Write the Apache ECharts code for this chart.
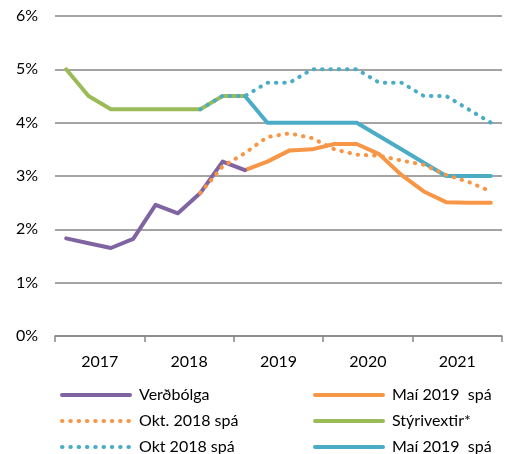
<!DOCTYPE html>
<html><head><meta charset="utf-8">
<script src="https://cdn.jsdelivr.net/npm/echarts@6/dist/echarts.min.js"></script>
<style>html,body{margin:0;padding:0;background:#fff}#c{width:509px;height:454px}</style>
</head><body><div id="c"></div>
<script>
const quarters = ['2017Q1','2017Q2','2017Q3','2017Q4','2018Q1','2018Q2','2018Q3','2018Q4','2019Q1','2019Q2','2019Q3','2019Q4','2020Q1','2020Q2','2020Q3','2020Q4','2021Q1','2021Q2','2021Q3','2021Q4'];
const yearLabels = ['2017','2018','2019','2020','2021'];
const yTicks = [0,1,2,3,4,5,6];
const verdbolga   = [1.83,1.74,1.65,1.82,2.46,2.30,2.68,3.27,3.11,null,null,null,null,null,null,null,null,null,null,null];
const mai2019Inf  = [null,null,null,null,null,null,null,null,3.11,3.27,3.48,3.50,3.60,3.60,3.41,3.02,2.71,2.51,2.50,2.50];
const okt2018Inf  = [null,null,null,null,null,null,2.68,3.18,3.43,3.73,3.80,3.71,3.50,3.40,3.38,3.29,3.21,3.02,2.89,2.71];
const styrivextir = [5.00,4.50,4.25,4.25,4.25,4.25,4.25,4.50,4.50,null,null,null,null,null,null,null,null,null,null,null];
const okt2018Rate = [null,null,null,null,null,null,4.25,4.50,4.50,4.75,4.75,5.00,5.00,5.00,4.75,4.75,4.50,4.50,4.25,4.00];
const mai2019Rate = [null,null,null,null,null,null,null,null,4.50,4.00,4.00,4.00,4.00,4.00,3.75,3.50,3.25,3.00,3.00,3.00];

const FONT = 'Lato';
const C = {purple:'#8064A2', orange:'#F79646', green:'#9BBB59', blue:'#4BACC6'};
const NAME_OR = 'Maí 2019  spá';
const NAME_BL = 'Maí 2019  spá\u200B';

function solid(name, data, color, z){
  return {name, type:'line', data, xAxisIndex:0, symbol:'none', z,
    lineStyle:{color, width:4, cap:'round', join:'round'}, itemStyle:{color}};
}
function dotted(name, data, color, z){
  return {name, type:'line', data, xAxisIndex:0, symbol:'none', z,
    lineStyle:{color, width:4, type:[0.5,7.8], cap:'round'}, itemStyle:{color}};
}
const legendCommon = {
  orient:'vertical', itemWidth:68, itemHeight:14, itemGap:10, padding:0,
  height:80,
  itemStyle:{opacity:0, borderWidth:0},
  lineStyle:{width:4},
  textStyle:{fontFamily:FONT, fontSize:16, lineHeight:14, color:'#000', padding:[0,0,0,4]},
  formatter: n => n.replace('\u200B','')
};
const option = {
  animation:false,
  grid:{left:55, right:7, top:16, bottom:118, containLabel:false},
  xAxis:[
    {type:'category', data:quarters, boundaryGap:true,
     axisLine:{lineStyle:{color:'#868686', width:1.5}},
     axisTick:{show:true, interval:(i)=>i%4===0, length:6, lineStyle:{color:'#868686', width:1.5}},
     axisLabel:{show:false}, splitLine:{show:false}},
    {type:'category', data:yearLabels, position:'bottom', boundaryGap:true,
     axisLine:{show:false}, axisTick:{show:false}, splitLine:{show:false},
     axisLabel:{margin:18, fontFamily:FONT, fontSize:16, color:'#000'}}
  ],
  yAxis:{type:'value', min:yTicks[0], max:yTicks[yTicks.length-1], interval:1,
    axisLine:{show:false}, axisTick:{show:false},
    axisLabel:{formatter:'{value}%', margin:17, fontFamily:FONT, fontSize:16, color:'#000'},
    splitLine:{lineStyle:{color:'#868686', width:1.5}}},
  legend:[
    Object.assign({left:60, top:387, data:['Verðbólga','Okt. 2018 spá','Okt 2018 spá']}, legendCommon),
    Object.assign({left:313, top:387, data:[NAME_OR,'Stýrivextir*',NAME_BL]}, legendCommon)
  ],
  series:[
    solid('Stýrivextir*', styrivextir, C.green, 2),
    dotted('Okt 2018 spá', okt2018Rate, C.blue, 3),
    solid(NAME_BL, mai2019Rate, C.blue, 4),
    solid(NAME_OR, mai2019Inf, C.orange, 4),
    solid('Verðbólga', verdbolga, C.purple, 5),
    dotted('Okt. 2018 spá', okt2018Inf, C.orange, 6)
  ]
};
const chart = echarts.init(document.getElementById('c'), null, {renderer:'canvas'});
chart.setOption(option);
</script></body></html>
